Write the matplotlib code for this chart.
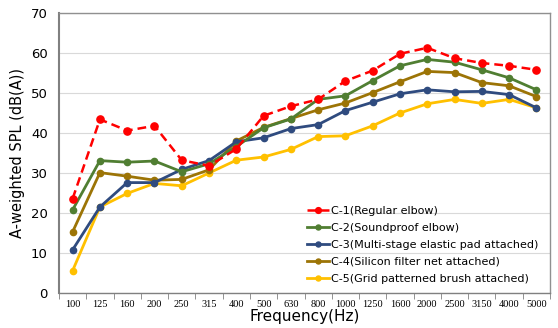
import matplotlib
matplotlib.use("Agg")
import matplotlib.pyplot as plt
import numpy as np

freqs = ["100", "125", "160", "200", "250", "315", "400", "500", "630", "800",
         "1000", "1250", "1600", "2000", "2500", "3150", "4000", "5000"]

c1 = [23.6, 43.4, 40.6, 41.8, 33.2, 31.8, 36.0, 44.3, 46.7, 48.4, 53.0, 55.6, 59.8, 61.3, 58.7, 57.5, 56.8, 55.8]
c2 = [20.8, 33.1, 32.7, 33.0, 30.3, 32.3, 36.6, 41.3, 43.5, 48.4, 49.3, 53.1, 56.8, 58.4, 57.7, 55.8, 53.8, 50.8]
c3 = [10.8, 21.5, 27.6, 27.6, 30.9, 33.1, 37.8, 38.8, 41.1, 42.1, 45.6, 47.7, 49.8, 50.8, 50.3, 50.4, 49.6, 46.3]
c4 = [15.3, 30.1, 29.2, 28.2, 28.4, 30.8, 38.0, 41.4, 43.6, 45.8, 47.5, 50.1, 52.8, 55.4, 55.1, 52.6, 51.8, 49.1]
c5 = [5.6, 21.5, 24.9, 27.4, 26.8, 30.0, 33.2, 34.0, 35.9, 39.1, 39.3, 41.8, 45.0, 47.3, 48.4, 47.4, 48.4, 46.3]

labels = ["C-1(Regular elbow)", "C-2(Soundproof elbow)",
          "C-3(Multi-stage elastic pad attached)", "C-4(Silicon filter net attached)",
          "C-5(Grid patterned brush attached)"]
colors = ["#FF0000", "#507E32", "#2F4B7F", "#9C7406", "#FFC000"]

fig = plt.figure(figsize=(5.58, 3.28), dpi=100)
ax = fig.add_axes([59/558, 35/328, 491/558, 280/328])

x = np.arange(len(freqs))
series = [c1, c2, c3, c4, c5]
for i, (s, lab, col) in enumerate(zip(series, labels, colors)):
    if i == 0:
        ax.plot(x, s, color=col, lw=1.8, ls=(0, (3.5, 2)), marker="o", ms=5.2, label=lab, zorder=7)
    else:
        ax.plot(x, s, color=col, lw=2.0, marker="o", ms=4.5, label=lab, zorder=6 - i)

ax.set_xlim(-0.5, len(freqs) - 0.5)
ax.set_ylim(0, 70)
ax.set_yticks(np.arange(0, 71, 10))
ax.set_xticks(x)
ax.set_xticklabels(freqs, fontsize=7.5, family="Liberation Serif")
ax.set_xticks(np.arange(-0.5, len(freqs)), minor=True)
ax.tick_params(axis="x", which="major", length=0, pad=5)
ax.tick_params(axis="x", which="minor", length=4, color="#808080", direction="out")
ax.tick_params(axis="y", length=0, labelsize=9.5, pad=8)

ax.grid(axis="y", color="#D9D9D9", lw=0.8)
ax.set_axisbelow(True)
for side in ["top", "right"]:
    ax.spines[side].set_color("#909090")
    ax.spines[side].set_linewidth(1.0)
ax.spines["left"].set_color("#808080")
ax.spines["left"].set_linewidth(1.5)
ax.spines["bottom"].set_color("#808080")
ax.spines["bottom"].set_linewidth(1.0)

ax.set_xlabel("Frequency(Hz)", fontsize=11, labelpad=0)
ax.set_ylabel("A-weighted SPL (dB(A))", fontsize=10.5, labelpad=4)

leg = ax.legend(loc="upper left", bbox_to_anchor=(0.505, 0.31), frameon=False,
                fontsize=8, handlelength=2.0, handletextpad=0.2, labelspacing=0.62,
                borderpad=0, borderaxespad=0, markerscale=0.8)

fig.savefig("out.png", dpi=100)
